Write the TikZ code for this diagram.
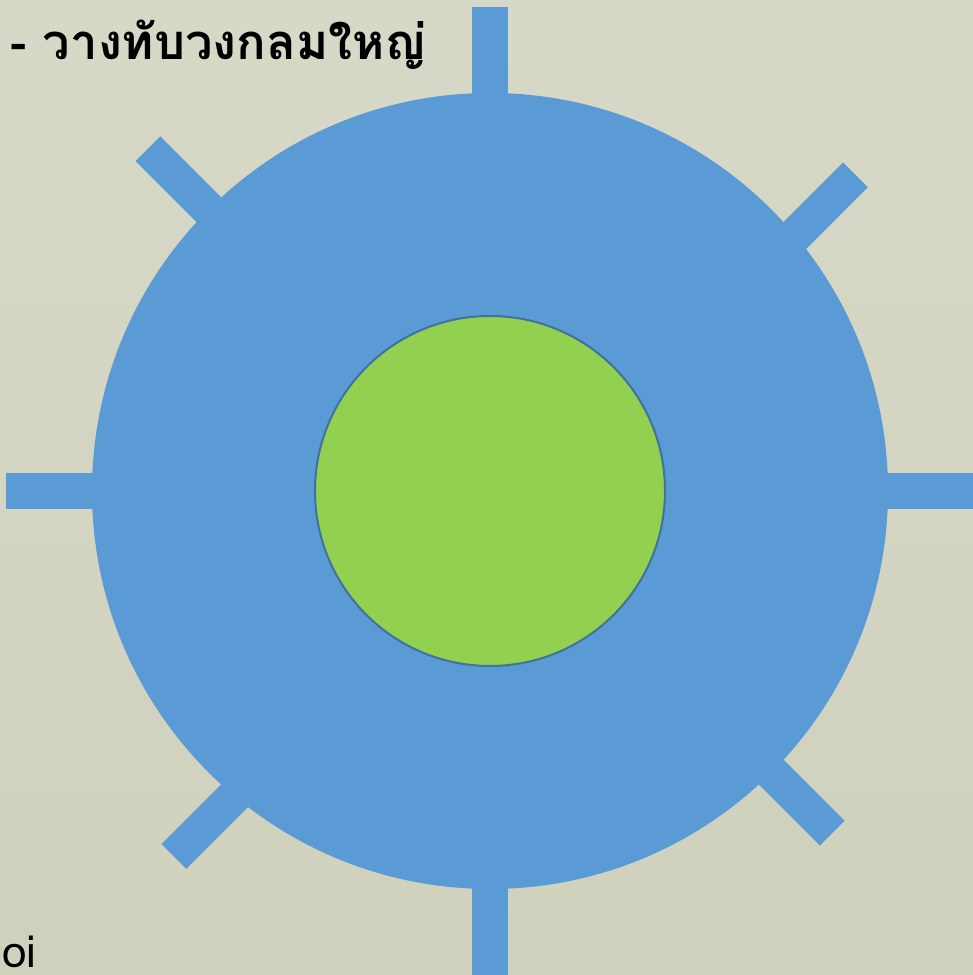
\documentclass[tikz,border=0pt]{standalone}
\usepackage{fontspec}
\newfontfamily\thaifont[Script=Thai]{Loma}
\usetikzlibrary{positioning}
\definecolor{bgtop}{RGB}{215,216,199}
\definecolor{bgbot}{RGB}{207,209,189}
\definecolor{ringblue}{RGB}{91,155,213}
\definecolor{coregreen}{RGB}{146,208,80}
\definecolor{coreline}{RGB}{65,113,156}

\begin{document}
\begin{tikzpicture}[
    x=1pt, y=1pt,
    spoke/.style={draw=ringblue, line width=36pt, line cap=butt},
    disc/.style={fill=ringblue},
    core/.style={fill=coregreen, draw=coreline, line width=2pt},
    label/.style={inner sep=0pt}
]
    \useasboundingbox (0,0) rectangle (973,975);
    \clip (0,0) rectangle (973,975);
    \shade [top color=bgtop, bottom color=bgbot] (0,0) rectangle (973,975);

    \coordinate (c) at (490,484);

    % spokes behind the big circle
    \begin{scope}[shift={(c)}]
        \draw [spoke] (90:484) -- (270:484);
        \draw [spoke] (0:484) -- (180:484);
        \draw [spoke, line width=35pt] (135:484) -- (315:484);
        \draw [spoke, line width=35pt] ([shift={(-45:35)}]45:482) -- ([shift={(-45:35)}]225:482);
    \end{scope}

    % circles
    \fill [disc] (c) circle (398);
    \filldraw [core] (c) circle (175);

    \node [label, anchor=base west, font=\thaifont\bfseries\fontsize{49}{53}\selectfont] (title) at (10,915) {- วางทับวงกลมใหญ่};
    \node [label, anchor=base west, font=\thaifont\fontsize{44}{48}\selectfont] (note) at (2,8) {oi};
\end{tikzpicture}
\end{document}
